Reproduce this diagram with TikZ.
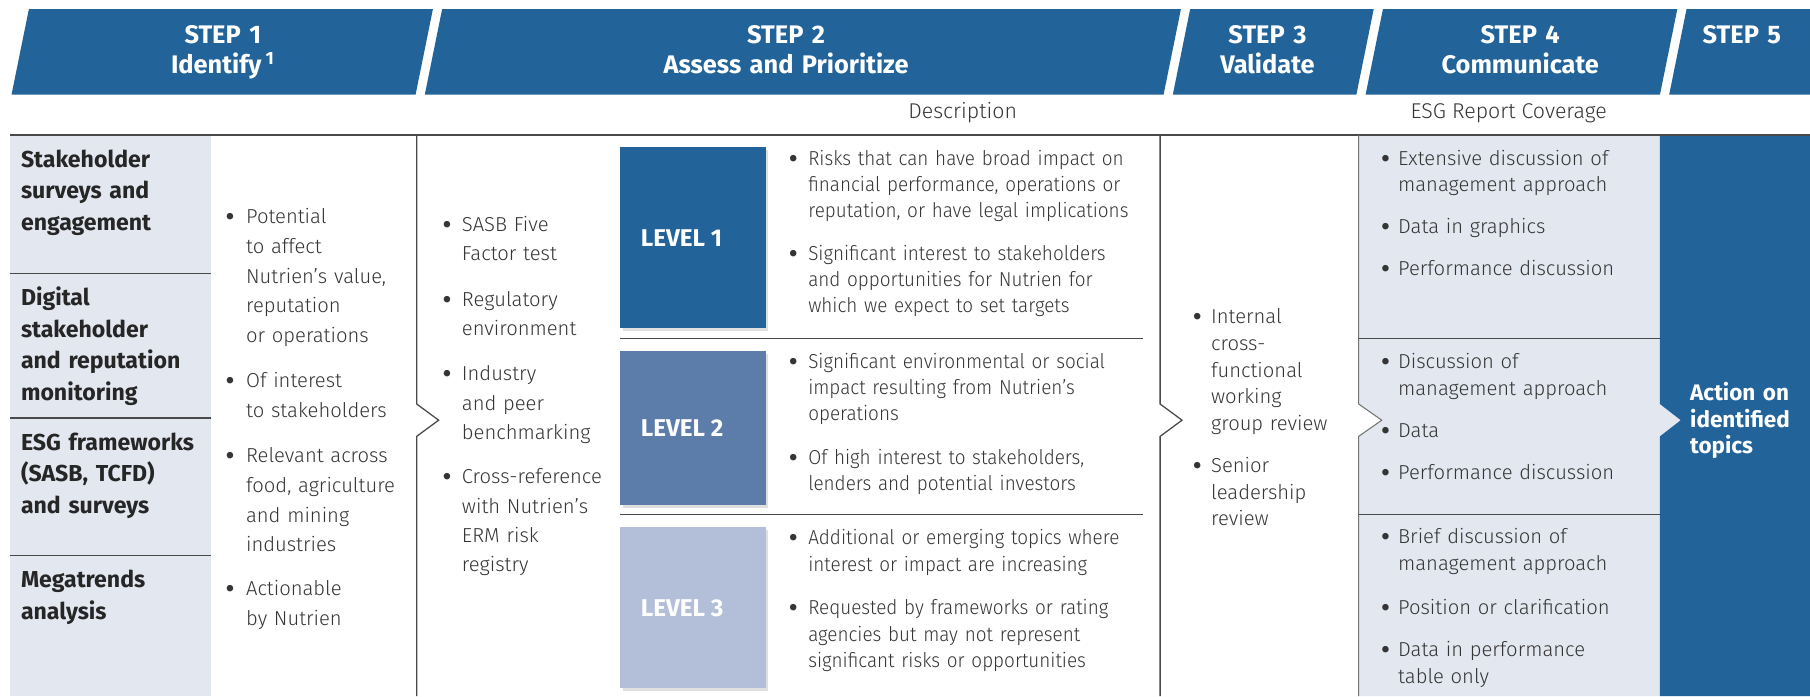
\documentclass[tikz,border=0pt]{standalone}
\usepackage{fontspec}
\newfontfamily\lightf{Fira Sans Light}
\newfontfamily\lightc{Fira Sans Light}[FakeStretch=0.935]
\newfontfamily\boldf{Fira Sans}
\usetikzlibrary{shadows}
\definecolor{nblue}{HTML}{22639A}
\definecolor{nblue2}{HTML}{5C7CAA}
\definecolor{nblue3}{HTML}{B3BFD9}
\definecolor{ngray}{HTML}{E3E7F0}
\definecolor{ntext}{HTML}{353535}
\definecolor{nline}{HTML}{4A4A4A}
\newcommand\bitem[5]{\node[bdot] (#1d) at (#2,#4) {\raisebox{-2.6pt}{\textbullet}}; \node[btext] (#1) at (#3,#4) {#5};}
\tikzset{
  hdtxt/.style={anchor=base, inner sep=0pt, text width=320pt, align=center, text=white, font=\boldf\bfseries\fontsize{22}{26}\selectfont},
  subhd/.style={inner sep=0pt, text=ntext, font=\lightf\fontsize{18.5}{20}\selectfont},
  rule/.style={draw=nline, line width=1.1pt},
  thinrule/.style={draw=black!55, line width=0.9pt},
  srctxt/.style={anchor=base west, inner sep=0pt, align=left, text width=165pt, text=black!85, font=\boldf\bfseries\fontsize{20}{27.3}\selectfont},
  bdot/.style={anchor=base west, inner sep=0pt, text=ntext, font=\boldf\fontsize{25}{25}\selectfont},
  btext/.style={anchor=base west, inner sep=0pt, align=left, text=ntext},
  lvlbox/.style={anchor=north west, minimum width=126pt, inner sep=0pt, drop shadow={shadow xshift=2.5pt, shadow yshift=-2.5pt, opacity=0.25}},
  lvltxt/.style={anchor=west, inner sep=0pt, text=white, font=\boldf\bfseries\fontsize{21}{24}\selectfont},
  acttxt/.style={anchor=base west, inner sep=0pt, align=left, text width=100pt, text=white, font=\boldf\bfseries\fontsize{19.5}{23}\selectfont},
}
\begin{document}
\begin{tikzpicture}[x=1pt,y=-1pt]
\useasboundingbox (0,0) rectangle (1568,603);
% header band
\fill[nblue] (10,82) -- (25,8) -- (375,8) -- (360,82) -- cycle;
\fill[nblue] (368,82) -- (383,8) -- (1023,8) -- (1008,82) -- cycle;
\fill[nblue] (1016,82) -- (1031,8) -- (1190,8) -- (1175,82) -- cycle;
\fill[nblue] (1183,82) -- (1198,8) -- (1453,8) -- (1438,82) -- cycle;
\fill[nblue] (1446,82) -- (1461,8) -- (1568,8) -- (1568,82) -- cycle;
\node[hdtxt] (h1) at (193,37.5) {STEP 1\\Identify\,\textsuperscript{1}};
\node[hdtxt] (h2) at (681,37.5) {STEP 2\\Assess and Prioritize};
\node[hdtxt] (h3) at (1098,37.5) {STEP 3\\Validate};
\node[hdtxt] (h4) at (1317,37.5) {STEP 4\\Communicate};
\node[hdtxt] (h5) at (1509,37.5) {STEP 5};
\node[subhd] (desc) at (834,98) {Description};
\node[subhd] (cov) at (1307,98) {ESG Report Coverage};
% backgrounds
\fill[ngray] (9,117) rectangle (183,603);
\fill[ngray] (1177,117) -- (1438,117) -- (1438,350) -- (1456,364) -- (1438,378) -- (1438,603) -- (1177,603) -- (1177,378) -- (1197,364) -- (1177,350) -- cycle;
\fill[nblue] (1438,117) -- (1568,117) -- (1568,603) -- (1438,603) -- (1438,378) -- (1456,364) -- (1438,350) -- cycle;
% rules
\draw[rule] (9,117) -- (1568,117);
\draw[rule] (9,237) -- (183,237);
\draw[rule] (9,362) -- (183,362);
\draw[rule] (9,481) -- (183,481);
\draw[rule] (361,117) -- (361,350) -- (380,364) -- (361,378) -- (361,603);
\draw[rule] (1005,117) -- (1005,350) -- (1024,364) -- (1005,378) -- (1005,603);
\draw[thinrule] (1177,117) -- (1177,350) -- (1197,364) -- (1177,378) -- (1177,603);
\draw[rule] (537,293) -- (990,293);
\draw[rule] (537,446) -- (990,446);
\draw[rule] (1177,293) -- (1438,293);
\draw[rule] (1177,446) -- (1438,446);
% sources
\node[srctxt] (s1) at (18,145) {Stakeholder\\surveys and\\engagement};
\node[srctxt] (s2) at (18,265) {Digital\\stakeholder\\and reputation\\monitoring};
\node[srctxt] (s3) at (18,390) {ESG frameworks\\(SASB, TCFD)\\and surveys};
\node[srctxt] (s4) at (18,509) {Megatrends\\analysis};
% step 1 criteria
\begin{scope}[btext/.append style={text width=140pt, font=\lightf\fontsize{17.5}{25.6}\selectfont}]
\bitem{c1}{195}{213}{194}{Potential\\to affect\\Nutrien’s value,\\reputation\\or operations}
\bitem{c2}{195}{213}{336}{Of interest\\to stakeholders}
\bitem{c3}{195}{213}{401}{Relevant across\\food, agriculture\\and mining\\industries}
\bitem{c4}{195}{213}{516}{Actionable\\by Nutrien}
\end{scope}
% step 2 criteria
\begin{scope}[btext/.append style={text width=130pt, font=\lightf\fontsize{17.5}{25.5}\selectfont}]
\bitem{a1}{383}{400}{200.5}{SASB Five\\Factor test}
\bitem{a2}{383}{400}{265.5}{Regulatory\\environment}
\bitem{a3}{383}{400}{330}{Industry\\and peer\\benchmarking}
\bitem{a4}{383}{400}{419}{Cross-reference\\with Nutrien’s\\ERM risk\\registry}
\end{scope}
% levels
\node[lvlbox, fill=nblue, minimum height=157pt] (l1) at (537,127) {};
\node[lvlbox, fill=nblue2, minimum height=133pt] (l2) at (537,304) {};
\node[lvlbox, fill=nblue3, minimum height=140pt] (l3) at (537,456) {};
\node[lvltxt] (l1t) at (555,206) {LEVEL 1};
\node[lvltxt] (l2t) at (555,371) {LEVEL 2};
\node[lvltxt] (l3t) at (555,527) {LEVEL 3};
\begin{scope}[btext/.append style={text width=290pt, font=\lightc\fontsize{17.5}{22.7}\selectfont}]
\bitem{d1}{683}{700}{143}{Risks that can have broad impact on\\financial performance, operations or\\reputation, or have legal implications}
\bitem{d2}{683}{700}{225.5}{Significant interest to stakeholders\\and opportunities for Nutrien for\\which we expect to set targets}
\bitem{d3}{683}{700}{319}{Significant environmental or social\\impact resulting from Nutrien’s\\operations}
\bitem{d4}{683}{700}{402}{Of high interest to stakeholders,\\lenders and potential investors}
\bitem{d5}{683}{700}{472}{Additional or emerging topics where\\interest or impact are increasing}
\bitem{d6}{683}{700}{532.6}{Requested by frameworks or rating\\agencies but may not represent\\significant risks or opportunities}
\end{scope}
% step 3
\begin{scope}[btext/.append style={text width=125pt, font=\lightf\fontsize{17.5}{23.3}\selectfont}]
\bitem{v1}{1033}{1049}{280}{Internal\\cross-\\functional\\working\\group review}
\bitem{v2}{1033}{1049}{409}{Senior\\leadership\\review}
\end{scope}
% step 4
\begin{scope}[btext/.append style={text width=220pt, font=\lightf\fontsize{17.5}{23.3}\selectfont}]
\bitem{r1}{1196}{1211}{143}{Extensive discussion of\\management approach}
\bitem{r2}{1196}{1211}{202}{Data in graphics}
\bitem{r3}{1196}{1211}{239}{Performance discussion}
\bitem{r4}{1196}{1211}{319}{Discussion of\\management approach}
\bitem{r5}{1196}{1211}{379}{Data}
\bitem{r6}{1196}{1211}{415.5}{Performance discussion}
\bitem{r7}{1196}{1211}{471}{Brief discussion of\\management approach}
\bitem{r8}{1196}{1211}{532}{Position or clarification}
\bitem{r9}{1196}{1211}{568.6}{Data in performance\\table only}
\end{scope}
% step 5
\node[acttxt] (act) at (1464,347) {Action on\\identified\\topics};
\end{tikzpicture}
\end{document}
